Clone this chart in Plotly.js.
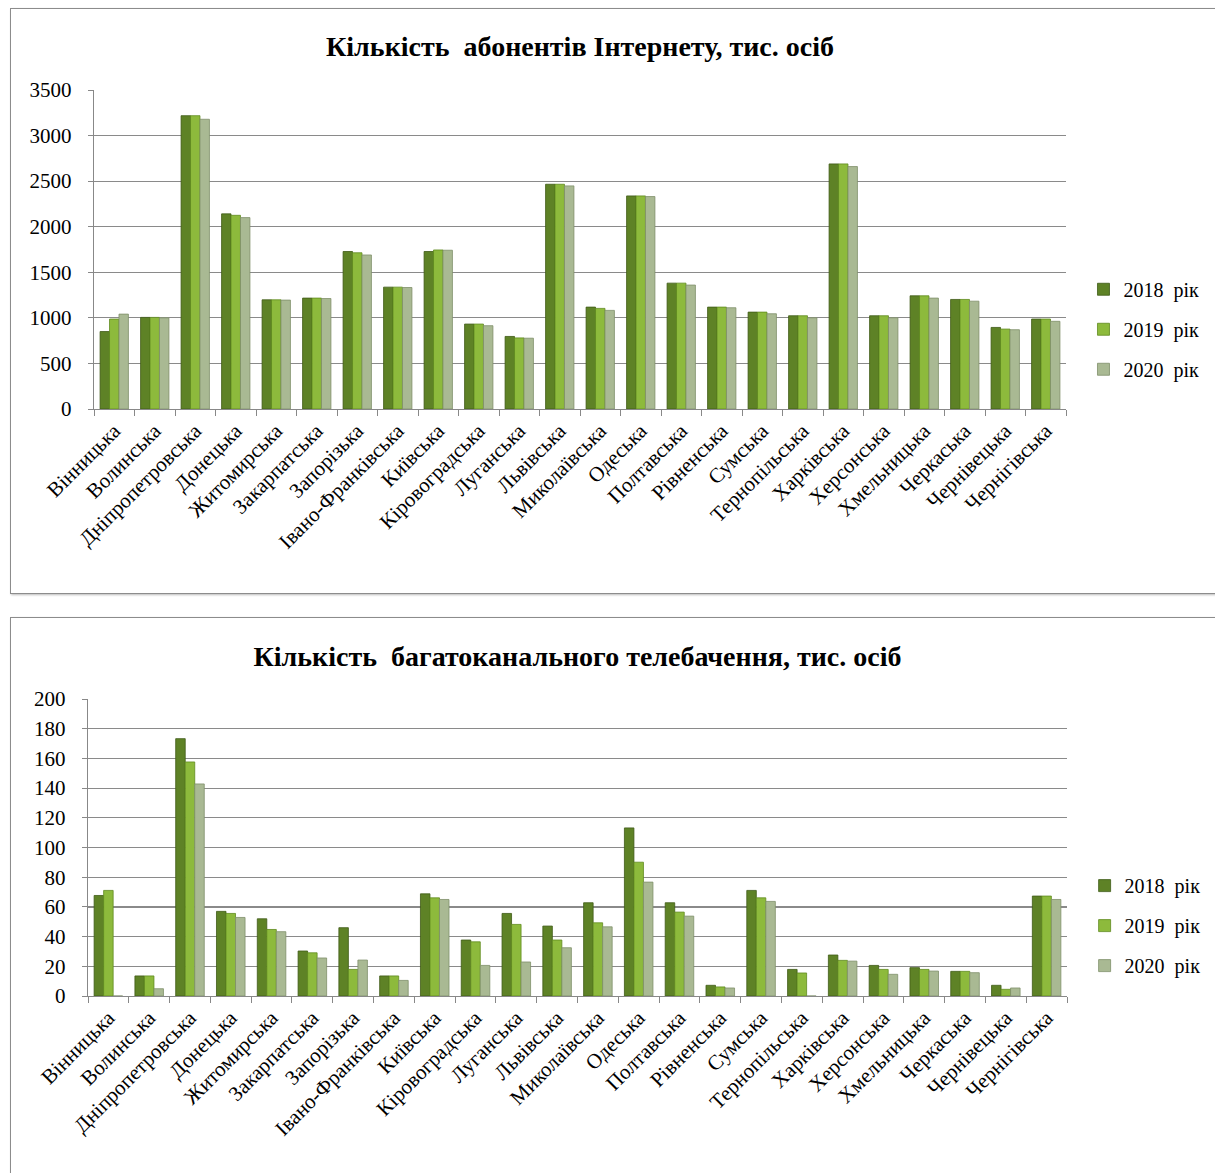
<!DOCTYPE html>
<html><head><meta charset="utf-8">
<script src="https://cdn.plot.ly/plotly-3.0.1.min.js"></script>
<style>
body{margin:0;background:#fff;width:1215px;height:1173px;overflow:hidden;position:relative;}
.box{position:absolute;border:1.5px solid #8c8c8c;box-shadow:1px 1px 2px #bbb;background:#fff;}
#c1{left:10px;top:8px;width:1215px;height:584px;}
#c2{left:10px;top:617px;width:1215px;height:570px;}
</style></head><body>
<div id="c1" class="box"></div>
<div id="c2" class="box"></div>
<script>
const regions = ["Вінницька","Волинська","Дніпропетровська","Донецька","Житомирська","Закарпатська","Запорізька","Івано-Франківська","Київська","Кіровоградська","Луганська","Львівська","Миколаївська","Одеська","Полтавська","Рівненська","Сумська","Тернопільська","Харківська","Херсонська","Хмельницька","Черкаська","Чернівецька","Чернігівська"];
const seriesNames = ["2018  рік","2019  рік","2020  рік"];

const internet2018 = [850,1005,3218,2141,1198,1217,1728,1337,1728,932,796,2466,1118,2338,1381,1118,1063,1023,2689,1023,1242,1202,895,987];
const internet2019 = [987,1005,3218,2125,1198,1217,1714,1337,1745,932,780,2466,1104,2338,1381,1118,1063,1023,2689,1023,1242,1202,877,987];
const internet2020 = [1041,1000,3179,2100,1195,1212,1690,1333,1742,914,777,2448,1082,2331,1360,1111,1045,1001,2660,1001,1217,1183,870,962];

const tv2018 = [67.7,13.5,173.3,57,52,30.3,46,13.5,68.8,37.7,55.6,47.1,62.8,113.2,62.8,7.2,71.1,17.9,27.6,20.6,19.1,16.6,7.2,67.3];
const tv2019 = [71.1,13.5,157.6,55.6,44.8,29.1,17.9,13.5,66.1,36.5,48.2,37.7,49.3,90.1,56.5,6.1,66.1,15.5,24,17.9,17.9,16.6,4.5,67.3];
const tv2020 = [0,4.9,142.8,52.9,43.3,25.6,24.2,10.5,65,20.6,22.9,32.5,46.6,76.7,53.8,5.4,63.7,0,23.5,14.6,16.8,15.7,5.4,65];

const colors = ["#5e8226","#8dba3c","#a9b993"];
const lineColors = ["#3f5a16","#5f8a1e","#7f8f6a"];
const serif = "'Liberation Serif', serif";

function traces(vals){
  return vals.map((v,i)=>({
    type:"bar", x:regions, y:v, name:seriesNames[i], legendgroup:"g"+i,
    marker:{color:colors[i], line:{color:lineColors[i], width:0.8}},
    hoverinfo:"x+y"
  }));
}

function layout(title, ytick, range, m, legY){
  return {
    width:1213, height:m.h,
    margin:{l:m.l, r:m.r, t:m.t, b:m.b},
    paper_bgcolor:"#fff", plot_bgcolor:"#fff",
    font:{family:serif, color:"#000"},
    title:{text:"<b>"+title+"</b>", font:{family:serif, size:28, color:"#000"}, x:0.5, xanchor:"center", xref:"paper", y:1-(m.ty/m.h), yanchor:"middle"},
    barmode:"group", bargap:0.3, bargroupgap:0,
    showlegend:true,
    legend:{x:1.018, xanchor:"left", y:legY, yanchor:"middle", font:{family:serif, size:20, color:"#000"}, tracegroupgap:11, bgcolor:"rgba(0,0,0,0)"},
    xaxis:{type:"category", tickangle:-45, tickfont:{family:serif, size:21, color:"#000"},
      showline:true, linecolor:"#888", linewidth:1.2, ticks:"outside", tickson:"boundaries", ticklen:6, tickcolor:"#888",
      showgrid:false, automargin:false},
    yaxis:{range:range, dtick:ytick, tickfont:{family:serif, size:21, color:"#000"}, ticklabelstandoff:12,
      showline:true, linecolor:"#888", linewidth:1.2, ticks:"outside", ticklen:5, tickcolor:"#888",
      showgrid:true, gridcolor:"#8a8a8a", gridwidth:1.2, zeroline:false, automargin:false, fixedrange:true}
  };
}

Plotly.newPlot("c1", traces([internet2018,internet2019,internet2020]),
  layout("Кількість  абонентів Інтернету, тис. осіб", 500, [0,3500], {h:584,l:83,r:158,t:80.5,b:184,ty:37}, 0.25),
  {displayModeBar:false, staticPlot:true});

Plotly.newPlot("c2", traces([tv2018,tv2019,tv2020]),
  layout("Кількість  багатоканального телебачення, тис. осіб", 20, [0,200], {h:570,l:77,r:157,t:81,b:192,ty:38}, 0.237),
  {displayModeBar:false, staticPlot:true});
</script>
</body></html>
